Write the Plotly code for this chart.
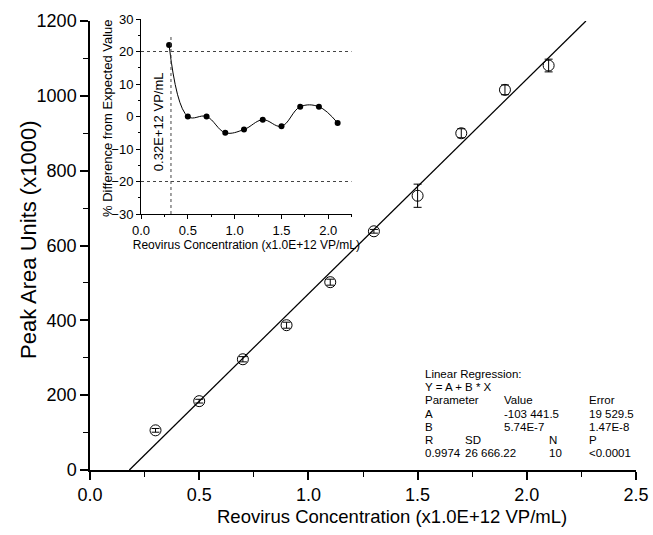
import plotly.graph_objects as go

# ---- data ----
conc = [0.3, 0.5, 0.7, 0.9, 1.1, 1.3, 1.5, 1.7, 1.9, 2.1]
peak_area = [106, 184, 296, 387, 502, 638, 733, 900, 1016, 1081]
peak_err = [5, 5, 7, 8, 8, 5, 31, 12, 13, 17]
pct_diff = [22, 0, 0, -5, -4, -1, -3, 3, 3, -2]
intercept = -103.4415  # x1000
slope = 574.0           # x1000 per 1e12 VP/mL
lod = 0.32
main_xticks = [0.0, 0.5, 1.0, 1.5, 2.0, 2.5]
main_yticks = [0, 200, 400, 600, 800, 1000, 1200]
inset_xticks = [0.0, 0.5, 1.0, 1.5, 2.0]
inset_yticks = [-30, -20, -10, 0, 10, 20, 30]
x_title = "Reovirus Concentration (x1.0E+12 VP/mL)"
y_title = "Peak Area Units (x1000)"
inset_y_title = "% Difference from Expected Value"
lod_label = "0.32E+12 VP/mL"
reg_rows = [
    ["Linear Regression:"],
    ["Y = A + B * X"],
    ["Parameter", "", "Value", "", "Error"],
    ["A", "", "-103 441.5", "", "19 529.5"],
    ["B", "", "5.74E-7", "", "1.47E-8"],
    ["R", "SD", "", "N", "P"],
    ["0.9974", "26 666.22", "", "10", "<0.0001"],
]

FONT = "Liberation Sans, Arial, sans-serif"
W, H = 653, 535
ML, MR, MT, MB = 90, 17, 15, 65
PW, PH = W - ML - MR, H - MT - MB


def px2paper(px, py):
    return (px - ML) / PW, (H - MB - py) / PH


fig = go.Figure()

# regression line
x0 = -intercept / slope
x1 = (1200 - intercept) / slope
fig.add_trace(go.Scatter(x=[x0, x1], y=[intercept + slope * x0, intercept + slope * x1],
                         mode="lines", line=dict(color="black", width=1.3),
                         showlegend=False, hoverinfo="skip", xaxis="x", yaxis="y"))

# main data points
fig.add_trace(go.Scatter(x=conc, y=peak_area, mode="markers",
                         marker=dict(symbol="circle-open", size=11, color="black",
                                     line=dict(width=1, color="black")),
                         error_y=dict(type="data", array=peak_err, visible=True,
                                      color="black", thickness=1, width=4),
                         showlegend=False, xaxis="x", yaxis="y"))

# inset curve
fig.add_trace(go.Scatter(x=conc, y=pct_diff, mode="lines+markers",
                         line=dict(color="black", width=1, shape="spline", smoothing=1.1),
                         marker=dict(symbol="circle", size=6, color="black"),
                         showlegend=False, xaxis="x2", yaxis="y2"))

# inset dotted reference lines
for yv in (20, -20):
    fig.add_shape(type="line", xref="x2", yref="y2", x0=0, x1=2.25, y0=yv, y1=yv,
                  line=dict(color="#444", width=1, dash="dot"))
fig.add_shape(type="line", xref="x2", yref="y2", x0=lod, x1=lod, y0=-30, y1=25,
              line=dict(color="#444", width=1, dash="dot"))

fig.add_annotation(x=0.19, y=-1.5, xref="x2", yref="y2", text=lod_label,
                   textangle=-90, showarrow=False,
                   font=dict(family=FONT, size=13, color="black"))


def paper_text(px, py, txt, size, angle=0, xanchor="center"):
    xp, yp = px2paper(px, py)
    fig.add_annotation(x=xp, y=yp, xref="paper", yref="paper", text=txt,
                       showarrow=False, xanchor=xanchor, yanchor="middle",
                       textangle=angle, font=dict(family=FONT, size=size, color="black"))


# axis titles
paper_text(392, 516, x_title, 18.5)
paper_text(28, 240, y_title, 22, angle=-90)
paper_text(108, 118, inset_y_title, 13, angle=-90)

# regression text table
col_px = [423, 463, 502, 547, 587]
row_py0, row_dy = 374, 13.2
for i, row in enumerate(reg_rows):
    for j, txt in enumerate(row):
        if txt:
            paper_text(col_px[j], row_py0 + i * row_dy, txt, 11.5, xanchor="left")

main_ydom_top = (H - MB - 21) / PH
ix0, _ = px2paper(141, 0)
ix1, _ = px2paper(351.7, 0)
_, iy0 = px2paper(0, 214)
_, iy1 = px2paper(0, 19)

axis_common = dict(showgrid=False, zeroline=False, showline=True, linecolor="black",
                   ticks="outside", tickcolor="black", automargin=False)

fig.update_layout(
    width=W, height=H,
    margin=dict(l=ML, r=MR, t=MT, b=MB, autoexpand=False),
    paper_bgcolor="white", plot_bgcolor="white",
    font=dict(family=FONT, color="black"),
    xaxis=dict(**axis_common, domain=[0, 1], range=[0, 2.5], tickvals=main_xticks,
               tickformat=".1f", ticklen=8, tickwidth=1.5, linewidth=1.5,
               minor=dict(dtick=0.25, ticklen=5, tickwidth=1.2, ticks="outside", tickcolor="black"),
               tickfont=dict(size=18), anchor="y"),
    yaxis=dict(**axis_common, domain=[0, main_ydom_top], range=[0, 1200], tickvals=main_yticks,
               ticklen=8, tickwidth=1.5, linewidth=1.5,
               minor=dict(dtick=100, ticklen=5, tickwidth=1.2, ticks="outside", tickcolor="black"),
               tickfont=dict(size=18), anchor="x"),
    xaxis2=dict(**axis_common, domain=[ix0, ix1], range=[0, 2.25], tickvals=inset_xticks,
                tickformat=".1f", ticklen=4, linewidth=1,
                minor=dict(dtick=0.25, ticklen=2, ticks="outside", tickcolor="black"),
                tickfont=dict(size=13),
                title=dict(text=x_title, font=dict(size=12), standoff=2),
                anchor="y2"),
    yaxis2=dict(**axis_common, domain=[iy0, iy1], range=[-30, 30], tickvals=inset_yticks,
                ticklen=4, linewidth=1,
                minor=dict(dtick=5, ticklen=2, ticks="outside", tickcolor="black"),
                tickfont=dict(size=13), anchor="x2"),
)

fig.write_html("out.html")
